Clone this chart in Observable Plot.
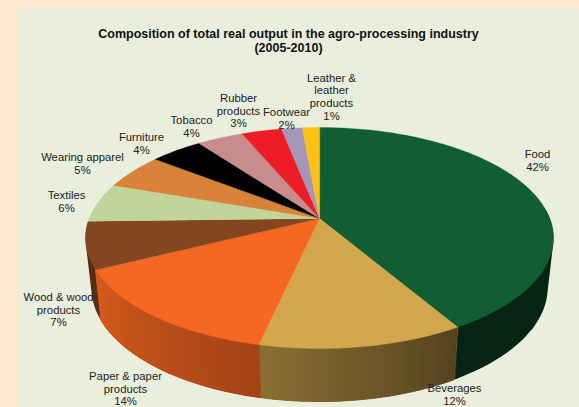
<!DOCTYPE html>
<html>
<head>
<meta charset="utf-8">
<script src="https://cdn.jsdelivr.net/npm/d3@7"></script>
<script src="https://cdn.jsdelivr.net/npm/@observablehq/plot@0.6"></script>
<style>
html,body{margin:0;padding:0;background:#FDE9CF;width:579px;height:407px;overflow:hidden}
#chart{position:absolute;left:19px;top:9px}
#chart svg{background:#E9EFDC;display:block}
</style>
</head>
<body>
<div id="chart"></div>
<script>
// Data
const categories = ["Food","Beverages","Paper & paper products","Wood & wood products","Textiles","Wearing apparel","Furniture","Tobacco","Rubber products","Footwear","Leather & leather products"];
const shares = [41.5,12,14.2,6.9,5.7,5.2,4.3,3.8,3.3,1.7,1.4];
const labelTexts = ["Food\n42%","Beverages\n12%","Paper & paper\nproducts\n14%","Wood & wood\nproducts\n7%","Textiles\n6%","Wearing apparel\n5%","Furniture\n4%","Tobacco\n4%","Rubber\nproducts\n3%","Footwear\n2%","Leather &\nleather\nproducts\n1%"];
const topColors = ["#115E32","#D4A74E","#F66721","#84461E","#C1D59A","#D9823A","#000000","#C88C8C","#EE1C25","#A596B9","#FDC013"];
// Side-wall shading (brightness at the start / end of each slice)
const shadeStart = [0.38,0.40,0.66,0.66,0.6,0.6,0.6,0.6,0.6,0.6,0.6];
const shadeEnd   = [0.38,0.66,0.87,0.66,0.6,0.6,0.6,0.6,0.6,0.6,0.6];
// Layout of labels, in picture pixels
const labelX = [537,454,125,58,66,82,141,191,238,286,331];
const labelY = [160,394,388,309,201,163,143,126,110,118,96];
const title = "Composition of total real output in the agro-processing industry\n(2005-2010)";

// Perspective view of the disc
const cx = 319, cy = 218, rx = 230.3, ry = 107.1, persp = -0.1765;
const topRing = t => {
  const u = Math.sin(t), v = -Math.cos(t), w = 1 + persp * v;
  return [cx + rx * u / w, cy + ry * v / w];
};
const bottomRing = t => {
  const [x, y] = topRing(t);
  return [cx + 0.975 * (x - cx), 267.1 + 1.03 * (y - cy)];
};
const total = d3.sum(shares);
let acc = 0;
const slices = shares.map((s, i) => {
  const a0 = acc / total * 2 * Math.PI;
  acc += s;
  return {i, a0, a1: acc / total * 2 * Math.PI};
});

const step = Math.PI / 180;
const topPts = [], wallPts = [], stripPts = [];
const visible = t => t >= 85 * step && t <= 269 * step; // back wall is hidden
const shaded = (i, s) => {
  const c = d3.rgb(topColors[i]);
  return d3.rgb(c.r * s, c.g * s, c.b * s).formatHex();
};
let sid = 0;
for (const sl of slices) {
  const {i, a0, a1} = sl;
  const n = Math.max(2, Math.ceil((a1 - a0) / step));
  const at = k => a0 + (a1 - a0) * k / n;
  topPts.push({z: i, x: cx, y: cy, fill: topColors[i]});
  for (let k = 0; k <= n; k++) {
    const [x, y] = topRing(at(k));
    topPts.push({z: i, x, y, fill: topColors[i]});
  }
  // whole wall of the slice in its mean shade; its hull follows the disc's outline
  const angs = d3.range(n + 1).map(at).filter(visible);
  if (angs.length > 1) {
    const col = shaded(i, (shadeStart[i] + shadeEnd[i]) / 2);
    const hull = d3.polygonHull([...angs.map(topRing), ...angs.map(bottomRing)]);
    for (const [x, y] of hull) wallPts.push({z: i, x, y, fill: col});
    // gradient bands where the shade changes along the slice
    if (shadeStart[i] !== shadeEnd[i]) {
      for (let k = 0; k + 1 < angs.length; k++) {
        const f = (k + 0.5) / (angs.length - 1);
        const col2 = shaded(i, shadeStart[i] + (shadeEnd[i] - shadeStart[i]) * f);
        const q = [topRing(angs[k]), topRing(angs[k + 1]), bottomRing(angs[k + 1]), bottomRing(angs[k])];
        const id = sid++;
        for (const [x, y] of q) stripPts.push({z: id, x, y, fill: col2});
      }
    }
  }
}
const labels = labelTexts.map((text, i) => ({text, x: labelX[i], y: labelY[i]}));

const chart = Plot.plot({
  width: 560, height: 398,
  margin: 0,
  x: {domain: [19, 579], range: [0, 560], axis: null},
  y: {domain: [9, 407], range: [0, 398], axis: null},
  color: {type: "identity"},
  marks: [
    Plot.line(wallPts, {x: "x", y: "y", z: "z", fill: "fill", stroke: "none", curve: "linear-closed"}),
    Plot.line(stripPts, {x: "x", y: "y", z: "z", fill: "fill", stroke: "fill", strokeWidth: 0.8, strokeLinejoin: "round", curve: "linear-closed"}),
    Plot.line(topPts, {x: "x", y: "y", z: "z", fill: "fill", stroke: "fill", strokeWidth: 0.3, strokeLinejoin: "round", curve: "linear-closed"}),
    Plot.text(labels, {x: "x", y: "y", text: "text", fontSize: 11.3, fontFamily: "Liberation Sans", fill: "#222", lineHeight: 1.12, lineAnchor: "middle"}),
    Plot.text([title], {x: () => 288, y: () => 40, text: d => d, fontSize: 12.5, fontWeight: "bold", fontFamily: "Liberation Sans", fill: "#111", lineHeight: 1.13, lineAnchor: "middle"})
  ]
});
document.getElementById("chart").append(chart);
</script>
</body>
</html>
